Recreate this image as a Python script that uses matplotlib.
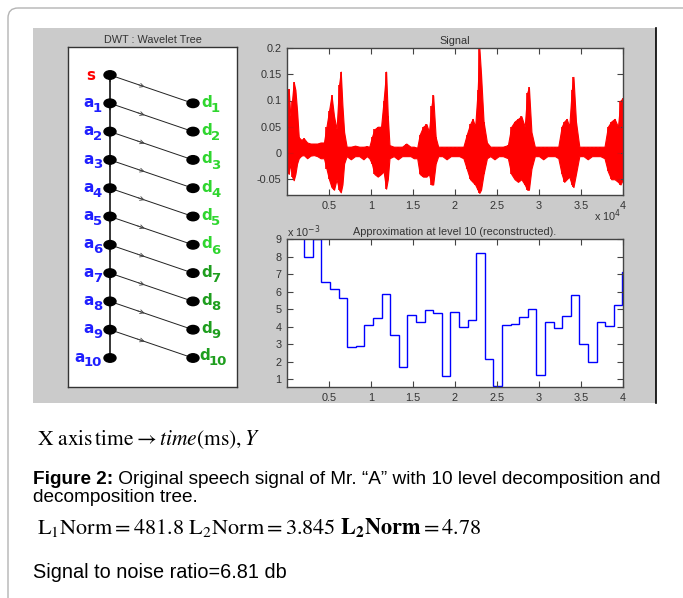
import numpy as np
import matplotlib
matplotlib.use("Agg")
from matplotlib import pyplot as plt
from matplotlib.patches import Rectangle, FancyBboxPatch, Ellipse

# ---- data ----
# speech signal envelope (x in units of 1e4 samples)
sig_x = [0.00, 0.02, 0.04, 0.06, 0.08, 0.10, 0.12, 0.14, 0.17, 0.20, 0.24, 0.28, 0.32, 0.36, 0.40,
         0.44, 0.47, 0.50, 0.53, 0.56, 0.59, 0.62, 0.64, 0.66, 0.68, 0.71, 0.76, 0.81, 0.86, 0.91, 0.95,
         0.98, 1.01, 1.04, 1.08, 1.12, 1.15, 1.18, 1.20, 1.22, 1.27, 1.32, 1.37, 1.42, 1.47, 1.51,
         1.55, 1.58, 1.62, 1.66, 1.69, 1.72, 1.74, 1.77, 1.80, 1.85, 1.90, 1.95, 2.00, 2.05,
         2.10, 2.14, 2.18, 2.21, 2.24, 2.27, 2.29, 2.31, 2.34, 2.38, 2.42, 2.47, 2.52, 2.57,
         2.63, 2.67, 2.71, 2.75, 2.79, 2.83, 2.86, 2.88, 2.91, 2.95, 3.00, 3.05, 3.10, 3.15, 3.19,
         3.23, 3.27, 3.30, 3.33, 3.36, 3.39, 3.41, 3.44, 3.48, 3.53, 3.58, 3.63, 3.68, 3.73,
         3.78, 3.82, 3.86, 3.90, 3.94, 3.97, 4.00]
sig_hi = [0.120, 0.122, 0.070, 0.100, 0.135, 0.120, 0.080, 0.030, 0.025, 0.028, 0.020, 0.018, 0.018, 0.018, 0.020,
          0.020, 0.050, 0.080, 0.110, 0.070, 0.045, 0.130, 0.155, 0.090, 0.040, 0.012, 0.012, 0.014, 0.012, 0.012, 0.013,
          0.012, 0.030, 0.045, 0.050, 0.050, 0.100, 0.155, 0.070, 0.015, 0.012, 0.012, 0.012, 0.018, 0.012, 0.012,
          0.010, 0.035, 0.050, 0.055, 0.040, 0.090, 0.110, 0.030, 0.012, 0.012, 0.012, 0.012, 0.012, 0.012,
          0.012, 0.035, 0.055, 0.065, 0.050, 0.120, 0.200, 0.150, 0.060, 0.020, 0.012, 0.012, 0.012, 0.012,
          0.015, 0.050, 0.060, 0.065, 0.070, 0.050, 0.115, 0.125, 0.040, 0.012, 0.012, 0.012, 0.012, 0.012, 0.012,
          0.012, 0.050, 0.060, 0.065, 0.050, 0.120, 0.145, 0.060, 0.012, 0.012, 0.012, 0.012, 0.012, 0.012,
          0.012, 0.050, 0.060, 0.065, 0.050, 0.100, 0.105]
sig_lo = [-0.030, -0.040, -0.020, -0.045, -0.052, -0.040, -0.020, -0.010, -0.005, -0.004, -0.010, -0.005, -0.004, -0.006, -0.010,
          -0.010, -0.030, -0.050, -0.065, -0.070, -0.050, -0.070, -0.075, -0.060, -0.020, -0.006, -0.012, -0.006, -0.006, -0.012, -0.006,
          -0.010, -0.020, -0.040, -0.045, -0.040, -0.035, -0.068, -0.050, -0.010, -0.006, -0.012, -0.006, -0.006, -0.006, -0.010,
          -0.010, -0.040, -0.045, -0.045, -0.040, -0.060, -0.060, -0.020, -0.006, -0.006, -0.012, -0.006, -0.006, -0.006,
          -0.010, -0.030, -0.050, -0.055, -0.060, -0.070, -0.076, -0.070, -0.040, -0.010, -0.006, -0.012, -0.006, -0.006,
          -0.010, -0.040, -0.050, -0.055, -0.050, -0.060, -0.070, -0.070, -0.030, -0.006, -0.006, -0.012, -0.006, -0.006, -0.006,
          -0.010, -0.040, -0.055, -0.050, -0.045, -0.060, -0.065, -0.040, -0.006, -0.006, -0.012, -0.006, -0.006, -0.006,
          -0.010, -0.035, -0.050, -0.050, -0.055, -0.060, -0.050]

# level-10 approximation, one value per 1024-sample block (units of 1e-3)
approx_vals = [9.8, 9.5, 8.0, 9.0, 6.55, 6.15, 5.65, 2.85, 2.9, 4.1,
               4.5, 5.85, 3.5, 1.7, 4.65, 4.25, 4.95, 4.75, 1.2, 4.85,
               3.95, 4.4, 8.2, 2.15, 0.6, 4.1, 4.15, 4.55, 5.0, 1.25,
               4.25, 3.9, 4.6, 5.8, 3.0, 2.0, 4.25, 4.05, 5.25, 7.1]
block_len = 1024
n_samples = 40000

sig_xticks = [0.5, 1, 1.5, 2, 2.5, 3, 3.5, 4]
sig_yticks = [-0.05, 0, 0.05, 0.1, 0.15, 0.2]
app_yticks = [1, 2, 3, 4, 5, 6, 7, 8, 9]
levels = 10

W, H = 683, 598
fig = plt.figure(figsize=(W / 100, H / 100), dpi=100)
fig.patch.set_facecolor("white")


def px_axes(x0, y0, x1, y1):
    return fig.add_axes([x0 / W, 1 - y1 / H, (x1 - x0) / W, (y1 - y0) / H])


# background layer in pixel coordinates
bg = fig.add_axes([0, 0, 1, 1])
bg.set_xlim(0, W)
bg.set_ylim(H, 0)
bg.axis("off")
bg.add_patch(FancyBboxPatch((8, 8), 720, 640, boxstyle="round,pad=0,rounding_size=10",
                            fc="none", ec="#b4b4b4", lw=1.0))
bg.add_patch(Rectangle((33, 28), 623, 375, fc="#cbcbcb", ec="none"))
bg.plot([656, 656], [28, 403], color="black", lw=1.2)

mat_font = dict(family="Liberation Sans", fontsize=7.8, color="#333333")


def matlab_style(ax):
    ax.set_facecolor("white")
    ax.tick_params(direction="in", length=4, width=0.8, top=True, right=True,
                   labelsize=7.8, labelcolor="#333333", color="#444444", pad=4)
    for lbl in ax.get_xticklabels() + ax.get_yticklabels():
        lbl.set_family("Liberation Sans")
    for s in ax.spines.values():
        s.set_color("#444444")
        s.set_linewidth(1.0)


# ---- wavelet tree ----
tree = px_axes(68, 47, 237, 387)
tree.set_xlim(68, 237)
tree.set_ylim(387, 47)
tree.set_xticks([])
tree.set_yticks([])
for s in tree.spines.values():
    s.set_color("#333333")
    s.set_linewidth(1.0)
tree.set_title("DWT : Wavelet Tree", pad=3, **mat_font)

ax_x, dx, y0, dy = 110, 193, 75, 28.3
rows = [y0 + dy * k for k in range(levels + 1)]
tree.plot([ax_x, ax_x], [rows[0], rows[-1]], color="black", lw=1.1, zorder=1)
for k in range(1, levels + 1):
    ya, yd = rows[k - 1], rows[k]
    tree.plot([ax_x, dx], [ya, yd], color="#222222", lw=0.7, zorder=1)
    mx, my = ax_x + 0.45 * (dx - ax_x), ya + 0.45 * (yd - ya)
    tree.annotate("", xy=(mx, my), xytext=(ax_x + 0.3 * (dx - ax_x), ya + 0.3 * (yd - ya)),
                  arrowprops=dict(arrowstyle="->", lw=0.6, color="#444444", mutation_scale=7))
    tree.annotate("", xy=(ax_x, ya + 10), xytext=(ax_x, ya + 3),
                  arrowprops=dict(arrowstyle="->", lw=0.6, color="#222222", mutation_scale=7))
for k in range(levels + 1):
    tree.add_patch(Ellipse((ax_x, rows[k]), 12, 8.5, fc="black", ec="black", zorder=3))
    if k > 0:
        tree.add_patch(Ellipse((dx, rows[k]), 12, 8.5, fc="black", ec="black", zorder=3))

lab = dict(fontweight="bold", family="DejaVu Sans")
tree.text(91, rows[0], "s", color="#ff0000", fontsize=11, ha="center", va="center", **lab)
for k in range(1, levels + 1):
    # a_k : subscript digit right-aligned next to the node, letter above-left of it
    dig = tree.text(102, rows[k] + 5, str(k), color="#1f1fff", fontsize=9.5,
                    ha="right", va="center", **lab)
    tree.annotate("a", xy=(0, 0.5), xycoords=dig, xytext=(0.8, 4.2),
                  textcoords="offset points", color="#1f1fff", fontsize=11,
                  ha="right", va="center", **lab)
    dcol = "#2fd62f" if k <= 6 else "#1e9e1e"
    let = tree.text(199 if k == levels else 201, rows[k] - (3 if k == levels else 1), "d",
                    color=dcol, fontsize=11, ha="left", va="center", **lab)
    tree.annotate(str(k), xy=(1, 0.5), xycoords=let, xytext=(-0.5, -4.5),
                  textcoords="offset points", color=dcol, fontsize=9.5,
                  ha="left", va="center", **lab)

# ---- original signal ----
ax1 = px_axes(287, 48, 623, 195)
ax1.fill_between(sig_x, sig_lo, sig_hi, color="#ff0000", lw=0.8, edgecolor="#ff0000")
ax1.vlines(sig_x, sig_lo, sig_hi, color="#ff0000", lw=1.2)
ax1.set_xlim(0, n_samples / 1e4)
ax1.set_ylim(-0.08, 0.2)
ax1.set_xticks(sig_xticks)
ax1.set_xticklabels(["0.5", "1", "1.5", "2", "2.5", "3", "3.5", "4"])
ax1.set_yticks(sig_yticks)
ax1.set_yticklabels(["-0.05", "0", "0.05", "0.1", "0.15", "0.2"])
matlab_style(ax1)
ax1.set_title("Signal", pad=3, **mat_font)
bg.text(594, 216, r"x 10$^4$", ha="left", va="center", **mat_font)

# ---- approximation a10 ----
ax2 = px_axes(287, 239, 623, 387)
edges = np.minimum(np.arange(len(approx_vals) + 1) * block_len, n_samples) / 1e4
ax2.stairs(approx_vals, edges, baseline=None, color="#0000ff", lw=1.0)
ax2.set_xlim(0, n_samples / 1e4)
ax2.set_ylim(0.55, 9)
ax2.set_xticks(sig_xticks)
ax2.set_xticklabels(["0.5", "1", "1.5", "2", "2.5", "3", "3.5", "4"])
ax2.set_yticks(app_yticks)
matlab_style(ax2)
ax2.set_title("Approximation at level 10 (reconstructed).", pad=3, **mat_font)
bg.text(287, 232, r"x 10$^{-3}$", ha="left", va="center", **mat_font)

# ---- text below the figure ----
bg.text(37, 440, r"$\mathrm{X\ axis\,time}\rightarrow \mathit{time}\left(\mathrm{ms}\right),Y$",
        math_fontfamily="stix", fontsize=15.5, ha="left", va="center", color="black")
t1 = bg.text(33, 488, "Figure 2:", family="Liberation Sans", fontsize=13.7,
             fontweight="bold", ha="left", va="bottom")
bg.annotate(" Original speech signal of Mr. \u201cA\u201d with 10 level decomposition and",
            xy=(1, 0), xycoords=t1, ha="left", va="bottom",
            family="Liberation Sans", fontsize=13.7)
bg.text(33, 498, "decomposition tree.", family="Liberation Sans", fontsize=13.7,
        ha="left", va="center")
bg.text(37, 528, r"$\mathrm{L_1Norm}=481.8\ \mathrm{L_2Norm}=3.845\ \mathbf{L_2Norm}=4.78$",
        math_fontfamily="stix", fontsize=16, ha="left", va="center", color="black")
bg.text(33, 573, "Signal to noise ratio=6.81 db", family="Liberation Sans", fontsize=14.3,
        ha="left", va="center")

fig.savefig("out.png", dpi=100, facecolor="white")
